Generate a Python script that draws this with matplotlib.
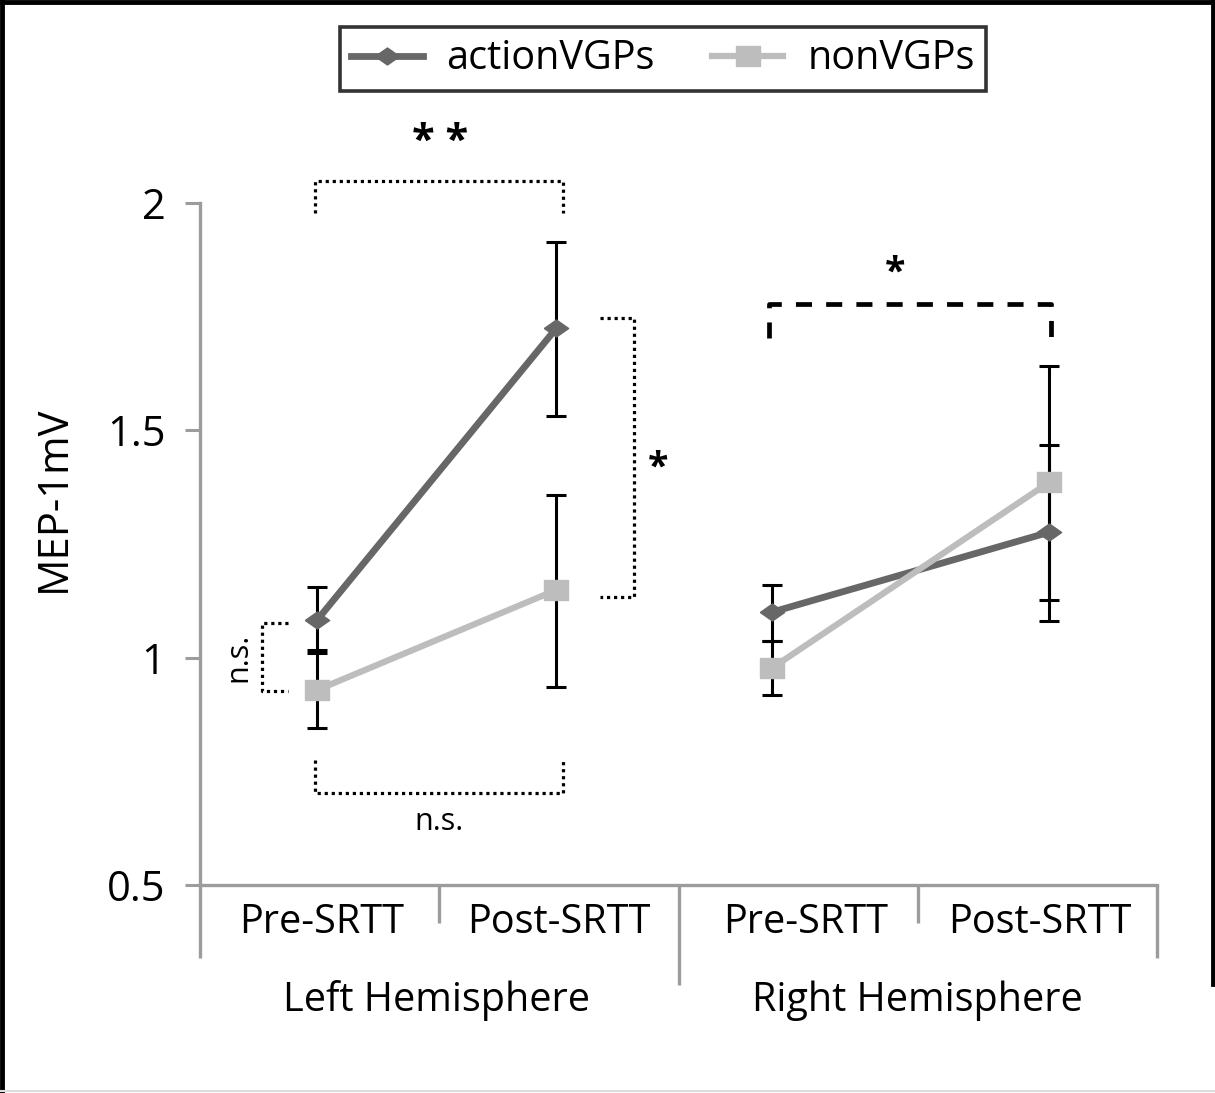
import matplotlib.pyplot as plt
from matplotlib.lines import Line2D

plt.rcParams['font.family'] = ['Open Sans', 'DejaVu Sans']

# data
conditions = ['Pre-SRTT', 'Post-SRTT', 'Pre-SRTT', 'Post-SRTT']
hemispheres = ['Left Hemisphere', 'Right Hemisphere']
action_mean = [1.083, 1.725, 1.100, 1.276]
action_low = [1.017, 1.532, 1.037, 1.127]
action_high = [1.155, 1.914, 1.160, 1.468]
non_mean = [0.929, 1.149, 0.977, 1.386]
non_low = [0.845, 0.936, 0.918, 1.081]
non_high = [1.010, 1.358, 1.037, 1.642]
y_ticks = [0.5, 1, 1.5, 2]
y_ticklabels = ['0.5', '1', '1.5', '2']

# layout (x in category units, axis runs 0..4)
point_x = [0.49, 1.49, 2.39, 3.55]
label_x = [0.51, 1.50, 2.53, 3.51]
group_x = [0.99, 3.0]

DARK = '#676767'
LIGHT = '#bdbdbd'
AXC = '#9c9c9c'
FS = 28.5

diamond = [(-1, 0), (0, 0.7), (1, 0), (0, -0.7), (-1, 0)]
rect = [(-1, -0.8), (1, -0.8), (1, 0.8), (-1, 0.8), (-1, -0.8)]

fig = plt.figure(figsize=(12.15, 10.93), dpi=100)
ax = fig.add_axes([200/1215, 208/1093, 957/1215, 682/1093])

# error bars under the markers
ax.errorbar(point_x, action_mean,
            yerr=[[m - l for m, l in zip(action_mean, action_low)],
                  [h - m for m, h in zip(action_mean, action_high)]],
            fmt='none', ecolor='black', elinewidth=2.2, capsize=7, capthick=2.2, zorder=1)
ax.errorbar(point_x, non_mean,
            yerr=[[m - l for m, l in zip(non_mean, non_low)],
                  [h - m for m, h in zip(non_mean, non_high)]],
            fmt='none', ecolor='black', elinewidth=2.2, capsize=7, capthick=2.2, zorder=1)

for seg in (slice(0, 2), slice(2, 4)):
    ax.plot(point_x[seg], action_mean[seg], color=DARK, lw=4.9, marker=diamond,
            markersize=17.5, zorder=3, label='actionVGPs' if seg.start == 0 else None)
    ax.plot(point_x[seg], non_mean[seg], color=LIGHT, lw=4.5, marker=rect,
            markersize=17.5, zorder=4, label='nonVGPs' if seg.start == 0 else None)

ax.set_xlim(0, 4)
ax.set_ylim(0.5, 2.0)
ax.set_xticks([])
ax.set_yticks(y_ticks)
ax.set_yticklabels(y_ticklabels)
ax.tick_params(axis='y', length=11, width=2.2, color=AXC, pad=14, labelsize=30)
for s in ('top', 'right'):
    ax.spines[s].set_visible(False)
for s in ('left', 'bottom'):
    ax.spines[s].set_color(AXC)
    ax.spines[s].set_linewidth(2.4)

# category separators below the axis
tr = ax.get_xaxis_transform()
for xx, yb in [(0, -0.107), (1, -0.056), (2, -0.147), (3, -0.056), (4, -0.107)]:
    ax.plot([xx, xx], [0, yb], transform=tr, color=AXC, lw=2.4, clip_on=False,
            solid_capstyle='butt')
for xx, lab in zip(label_x, conditions):
    ax.text(xx, -0.0704, lab, transform=tr, ha='center', va='baseline', fontsize=FS)
for xx, lab in zip(group_x, hemispheres):
    ax.text(xx, -0.185, lab, transform=tr, ha='center', va='baseline', fontsize=FS)

fig.text(54/1215, 1 - 499/1093, 'MEP-1mV', rotation=90, ha='center', va='center',
         fontsize=30)

# significance brackets
dot = dict(color='black', lw=2.3, ls=(0, (1, 1.2)), clip_on=False)
ax.plot([0.481, 0.481, 1.517, 1.517], [1.978, 2.048, 2.048, 1.978], **dot)
ax.text(1.004, 2.132, '* *', ha='center', va='center', fontsize=30, fontweight='bold')
ax.plot([1.672, 1.814, 1.814, 1.672], [1.747, 1.747, 1.133, 1.133], **dot)
ax.text(1.914, 1.417, '*', ha='center', va='center', fontsize=27, fontweight='bold')
ax.plot([0.368, 0.259, 0.259, 0.368], [1.076, 1.076, 0.927, 0.927], **dot)
ax.text(0.159, 1.0, 'n.s.', rotation=90, ha='center', va='center', fontsize=22)
ax.plot([0.481, 0.481, 1.517, 1.517], [0.775, 0.702, 0.702, 0.775], **dot)
ax.text(1.0, 0.639, 'n.s.', ha='center', va='center', fontsize=22)
ax.plot([2.378, 2.378, 3.557, 3.557], [1.703, 1.778, 1.778, 1.703],
        color='black', lw=3.4, ls=(0, (3.4, 3.0)), clip_on=False)
ax.text(2.905, 1.844, '*', ha='center', va='center', fontsize=27, fontweight='bold')

leg = fig.legend(loc='upper center', bbox_to_anchor=(663/1215, 1 - 27/1093), ncol=2,
                 fontsize=28.5, frameon=True, fancybox=False, edgecolor='black',
                 handlelength=1.8, handletextpad=0.6, columnspacing=1.45,
                 borderpad=0.3, borderaxespad=0)
leg.get_frame().set_linewidth(2.6)

# outer frame
for xs, ys in [([0.002, 0.002], [0, 1]), ([0, 1], [0.998, 0.998]), ([0.998, 0.998], [0.1, 1])]:
    fig.add_artist(Line2D(xs, ys, transform=fig.transFigure, color='black', lw=3.5))
fig.add_artist(Line2D([0, 1], [0.002, 0.002], transform=fig.transFigure,
                      color='#dddddd', lw=1.5))

fig.savefig('out.png', dpi=100)
